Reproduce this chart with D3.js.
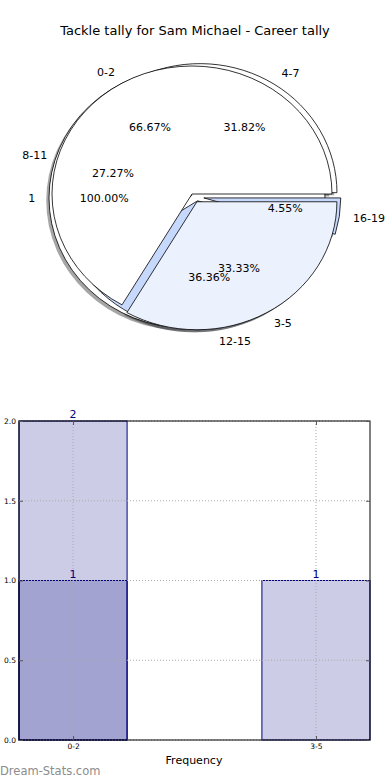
<!DOCTYPE html>
<html>
<head>
<meta charset="utf-8">
<script src="https://cdn.jsdelivr.net/npm/d3@7"></script>
<style>
  body { margin: 0; background: #fff; }
  svg { display: block; font-family: 'DejaVu Sans', sans-serif; }
</style>
</head>
<body>
<svg id="chart" width="390" height="780"></svg>
<script>
'use strict';

var title = 'Tackle tally for Sam Michael - Career tally';

// three pies drawn on top of each other
var pieCLabels = ['1'];
var pieCValues = [1];
var pieCColors = ['#ffffff'];
var pieCExplode = [0];

var pieBLabels = ['4-7', '8-11', '12-15', '16-19'];
var pieBValues = [7, 6, 8, 1];
var pieBColors = ['#ffffff', '#ffffff', '#c6d8fb', '#c6d8fb'];
var pieBExplode = [0.04, 0.04, 0.03, 0.05];

var pieALabels = ['0-2', '3-5'];
var pieAValues = [2, 1];
var pieAColors = ['#ffffff', '#ebf1fd'];
var pieAExplode = [0, 0.07];

// histogram below
var barCategories = ['0-2', '3-5'];
var barSeries1 = [2, 1];
var barSeries2 = [1, null];
var yTicks = [0, 0.5, 1, 1.5, 2];

var svg = d3.select('#chart');

svg.append('text')
	.attr('x', 195)
	.attr('y', 30)
	.attr('text-anchor', 'middle')
	.attr('dominant-baseline', 'central')
	.style('font-size', '13px')
	.text(title);

var pies = [
	{labels: pieCLabels, values: pieCValues, colors: pieCColors, explode: pieCExplode, cx: 187, cy: 198, rx: 138, ry: 130},
	{labels: pieBLabels, values: pieBValues, colors: pieBColors, explode: pieBExplode, cx: 197, cy: 197, rx: 137, ry: 129},
	{labels: pieALabels, values: pieAValues, colors: pieAColors, explode: pieAExplode, cx: 192, cy: 194, rx: 140, ry: 128}
];

// counter clockwise from 3 o'clock, like matplotlib
var pie = d3.pie()
	.sort(null)
	.startAngle(Math.PI / 2)
	.endAngle(Math.PI / 2 - 2 * Math.PI);

var arc = d3.arc().innerRadius(0).outerRadius(1);

pies.forEach(function(p) {
	p.arcs = pie(p.values);
	p.arcs.forEach(function(a, i) {
		var mid = (a.startAngle + a.endAngle) / 2;
		a.ux = Math.sin(mid);
		a.uy = -Math.cos(mid);
		a.dx = a.ux * p.explode[i] * p.rx;
		a.dy = a.uy * p.explode[i] * p.ry;
	});
});

// shadows sit under every wedge, wedges under every text
var shadowLayer = svg.append('g');
var wedgeLayer = svg.append('g');
var textLayer = svg.append('g');

var shadowColor = function(c) {
	var rgb = d3.rgb(c);
	return 'rgba(' + Math.round(rgb.r * 0.3) + ',' + Math.round(rgb.g * 0.3) + ',' + Math.round(rgb.b * 0.3) + ',0.5)';
};

pies.forEach(function(p) {
	var total = d3.sum(p.values);
	p.arcs.forEach(function(a, i) {
		var tx = p.cx + a.dx, ty = p.cy + a.dy;
		shadowLayer.append('path')
			.attr('d', arc(a))
			.attr('transform', 'translate(' + (tx - 0.02 * p.rx) + ',' + (ty + 0.02 * p.ry) + ') scale(' + p.rx + ',' + p.ry + ')')
			.attr('fill', shadowColor(p.colors[i]));
		wedgeLayer.append('path')
			.attr('d', arc(a))
			.attr('transform', 'translate(' + tx + ',' + ty + ') scale(' + p.rx + ',' + p.ry + ')')
			.attr('fill', p.colors[i])
			.attr('stroke', '#000')
			.attr('stroke-width', 0.8)
			.attr('vector-effect', 'non-scaling-stroke');

		textLayer.append('text')
			.attr('x', tx + a.ux * 1.1 * p.rx)
			.attr('y', ty + a.uy * 1.1 * p.ry)
			.attr('text-anchor', a.ux < 0 ? 'end' : 'start')
			.attr('dominant-baseline', 'central')
			.style('font-size', '11px')
			.text(p.labels[i]);
		textLayer.append('text')
			.attr('x', tx + a.ux * 0.6 * p.rx)
			.attr('y', ty + a.uy * 0.6 * p.ry)
			.attr('text-anchor', 'middle')
			.attr('dominant-baseline', 'central')
			.style('font-size', '11px')
			.text((p.values[i] / total * 100).toFixed(2) + '%');
	});
});

// ---- bar chart ----
var margin = {left: 19, right: 370, top: 421, bottom: 740};
var barWidth = 0.445;

var xscale = d3.scaleLinear()
	.domain([-barWidth / 2, barCategories.length - 1 + barWidth / 2])
	.range([margin.left, margin.right]);

var yscale = d3.scaleLinear()
	.domain([0, 2])
	.range([margin.bottom, margin.top]);

var g = svg.append('g');

var drawSeries = function(values) {
	values.forEach(function(v, i) {
		if (v === null) return;
		g.append('rect')
			.attr('x', xscale(i - barWidth / 2))
			.attr('y', yscale(v))
			.attr('width', xscale(i + barWidth / 2) - xscale(i - barWidth / 2))
			.attr('height', yscale(0) - yscale(v))
			.attr('fill', 'rgba(0,0,128,0.2)')
			.attr('stroke', '#000080')
			.attr('stroke-width', 1);
	});
};
drawSeries(barSeries1);
drawSeries(barSeries2);

// dotted grid
var grid = svg.append('g')
	.attr('stroke', '#aaa')
	.attr('stroke-width', 1)
	.attr('stroke-dasharray', '1,2');
yTicks.forEach(function(t) {
	grid.append('line')
		.attr('x1', margin.left).attr('x2', margin.right)
		.attr('y1', yscale(t)).attr('y2', yscale(t));
});
barCategories.forEach(function(c, i) {
	grid.append('line')
		.attr('x1', xscale(i)).attr('x2', xscale(i))
		.attr('y1', margin.top).attr('y2', margin.bottom);
});

// frame
svg.append('rect')
	.attr('x', margin.left)
	.attr('y', margin.top)
	.attr('width', margin.right - margin.left)
	.attr('height', margin.bottom - margin.top)
	.attr('fill', 'none')
	.attr('stroke', '#000')
	.attr('stroke-width', 1);

var yAxis = svg.append('g')
	.attr('transform', 'translate(' + margin.left + ',0)')
	.call(d3.axisLeft(yscale).tickValues(yTicks).tickSize(-4).tickPadding(3).tickFormat(d3.format('.1f')));
var yAxisR = svg.append('g')
	.attr('transform', 'translate(' + margin.right + ',0)')
	.call(d3.axisRight(yscale).tickValues(yTicks).tickSize(-4).tickFormat(''));
var xAxis = svg.append('g')
	.attr('transform', 'translate(0,' + margin.bottom + ')')
	.call(d3.axisBottom(xscale).tickValues(d3.range(barCategories.length)).tickSize(-4).tickPadding(4)
		.tickFormat(function(i) { return barCategories[i]; }));
var xAxisT = svg.append('g')
	.attr('transform', 'translate(0,' + margin.top + ')')
	.call(d3.axisTop(xscale).tickValues(d3.range(barCategories.length)).tickSize(-4).tickFormat(''));

[yAxis, yAxisR, xAxis, xAxisT].forEach(function(ax) {
	ax.select('.domain').remove();
	ax.selectAll('text').style('font-size', '7.5px').attr('fill', '#000').style('font-family', "'DejaVu Sans', sans-serif");
	ax.selectAll('line').attr('stroke', '#555');
});

// value labels
var drawValueLabels = function(values) {
	values.forEach(function(v, i) {
		if (v === null) return;
		svg.append('text')
			.attr('x', xscale(i))
			.attr('y', yscale(v) - 3)
			.attr('text-anchor', 'middle')
			.attr('fill', '#000080')
			.style('font-size', '11px')
			.text(v);
	});
};
drawValueLabels(barSeries1);
drawValueLabels(barSeries2);

svg.append('text')
	.attr('x', 194)
	.attr('y', 764)
	.attr('text-anchor', 'middle')
	.style('font-size', '11px')
	.text('Frequency');

svg.append('text')
	.attr('x', 0)
	.attr('y', 775)
	.attr('fill', '#8c8c8c')
	.style('font-size', '11.5px')
	.text('Dream-Stats.com');
</script>
</body>
</html>
